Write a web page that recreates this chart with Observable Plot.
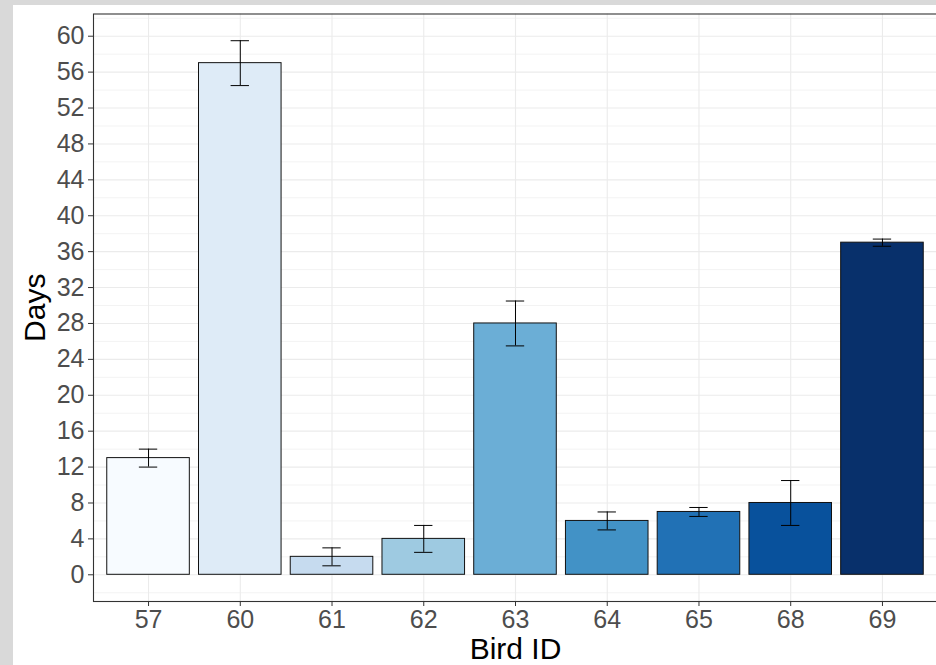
<!DOCTYPE html>
<html><head><meta charset="utf-8">
<script src="https://cdn.jsdelivr.net/npm/d3@7"></script>
<script src="https://cdn.jsdelivr.net/npm/@observablehq/plot@0.6"></script>
<style>
html,body{margin:0;padding:0;background:#d9d9d9;width:936px;height:665px;overflow:hidden}
#chart{position:absolute;left:13px;top:5px;width:923px;height:660px;background:#fff;overflow:hidden}
</style></head><body><div id="chart"></div>
<script>
const birdIds = ["57","60","61","62","63","64","65","68","69"];
const days    = [13, 57, 2, 4, 28, 6, 7, 8, 37];
const errLow  = [12, 54.5, 1, 2.5, 25.5, 5, 6.5, 5.5, 36.6];
const errHigh = [14, 59.5, 3, 5.5, 30.5, 7, 7.5, 10.5, 37.4];
const fills   = ["#f7fbff","#deebf7","#c6dbef","#9ecae1","#6baed6","#4292c6","#2171b5","#08519c","#08306b"];
const yTicks  = [0,4,8,12,16,20,24,28,32,36,40,44,48,52,56,60];
const yMinor  = [-2,2,6,10,14,18,22,26,30,34,38,42,46,50,54,58,62];
const xLabel = "Bird ID";
const yLabel = "Days";

const data = birdIds.map((id, i) => ({id, days: days[i], lo: errLow[i], hi: errHigh[i]}));

const W = 923, H = 660, ML = 80, MR = -1;
const step = (W - ML - MR) / 9.2;
const whiskerInset = (0.9 - 0.2) / 2 * step;

const chart = Plot.plot({
  width: W, height: H,
  marginLeft: ML, marginRight: MR, marginTop: 8.5, marginBottom: 64,
  style: {fontFamily: "'Liberation Sans', Arial, sans-serif", background: "transparent", overflow: "visible"},
  x: {domain: birdIds, padding: 0.1, paddingOuter: 0.15, round: false, label: null},
  y: {domain: [-2.975, 62.475], label: null},
  color: {domain: birdIds, range: fills},
  marks: [
    Plot.ruleY(yMinor, {stroke: "#f3f3f3", strokeWidth: 1}),
    Plot.ruleY(yTicks, {stroke: "#ebebeb", strokeWidth: 1.1}),
    Plot.gridX(birdIds, {stroke: "#ebebeb", strokeOpacity: 1, strokeWidth: 1.1}),
    Plot.barY(data, {x: "id", y: "days", fill: "id", stroke: "#111", strokeWidth: 1}),
    Plot.ruleX(data, {x: "id", y1: "lo", y2: "hi", stroke: "#000", strokeWidth: 1}),
    Plot.tickY(data, {x: "id", y: "lo", stroke: "#000", strokeWidth: 1, insetLeft: whiskerInset, insetRight: whiskerInset}),
    Plot.tickY(data, {x: "id", y: "hi", stroke: "#000", strokeWidth: 1, insetLeft: whiskerInset, insetRight: whiskerInset}),
    Plot.frame({stroke: "#333", strokeWidth: 1.1}),
    Plot.axisY(yTicks, {tickSize: 5, tickPadding: 4, fontSize: 25, label: null, stroke: "#333", fill: "#4d4d4d"}),
    Plot.axisX(birdIds, {tickSize: 5, tickPadding: 4, fontSize: 25, label: null, stroke: "#333", fill: "#4d4d4d"}),
    Plot.text([yLabel], {text: d => d, frameAnchor: "left", textAnchor: "middle", lineAnchor: "middle", rotate: -90, dx: -58, fontSize: 30, fill: "#000"}),
    Plot.text([xLabel], {text: d => d, frameAnchor: "bottom", textAnchor: "middle", lineAnchor: "middle", dy: 47.5, fontSize: 30, fill: "#000"})
  ]
});
document.getElementById("chart").append(chart);
d3.select(chart).selectAll('g[aria-label="y-axis tick label"], g[aria-label="x-axis tick label"]').attr("fill", "#4d4d4d");
d3.select(chart).selectAll('g[aria-label="y-axis tick"], g[aria-label="x-axis tick"]').attr("stroke", "#333");
</script></body></html>
